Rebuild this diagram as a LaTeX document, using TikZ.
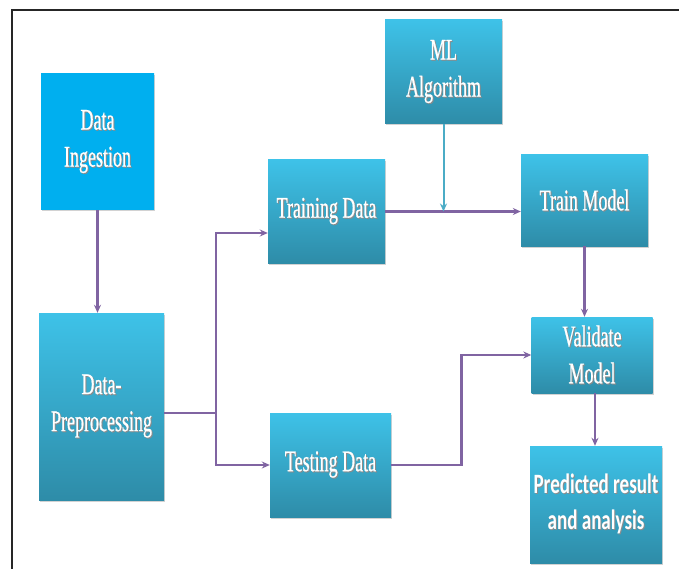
\documentclass[tikz,border=0pt]{standalone}
\usepackage{fontspec}
\usetikzlibrary{arrows.meta,shadows}
\newfontfamily\boxfont[FakeStretch=0.6,FakeBold=0.6]{Liberation Serif}
\newfontfamily\predfont[FakeStretch=0.68]{Carlito}
\definecolor{boxtop}{HTML}{3EC2E8}
\definecolor{boxbot}{HTML}{2E8CA8}
\definecolor{ingcol}{HTML}{00AFEF}
\definecolor{arrpurple}{HTML}{8064A2}
\definecolor{arrteal}{HTML}{4BACC6}
\newcommand\sh[1]{\leavevmode\rlap{\kern1pt\raisebox{-1pt}{\textcolor{black!45}{#1}}}#1}
\tikzset{
  box/.style={draw=none, top color=boxtop, bottom color=boxbot, text=white,
    align=center, inner sep=2pt, font=\boxfont\fontsize{30}{37}\selectfont,
    drop shadow={opacity=0.35, shadow xshift=1.2pt, shadow yshift=-1.5pt}},
  arr/.style={draw=arrpurple, line width=2.6pt, -{Stealth[length=8pt,width=7pt]}},
  arrt/.style={draw=arrteal, line width=2pt, -{Stealth[length=8pt,width=7pt]}},
}
\begin{document}
\begin{tikzpicture}[x=1pt,y=-1pt]
\useasboundingbox (0,0) rectangle (679,569);
\fill[white] (0,0) rectangle (679,569);
\draw[black!85, line width=1.5pt] (679,10) -- (12,10) -- (12,569);

\node[box, top color=ingcol, bottom color=ingcol, minimum width=113pt, minimum height=136pt] (ing) at (97.5,142) {\sh{Data}\\\sh{Ingestion}};
\node[box, minimum width=125pt, minimum height=187pt] (pre) at (101.5,406.5) {\sh{Data-}\\\sh{Preprocessing}};
\node[box, minimum width=117pt, minimum height=103pt] (train) at (326.5,211.5) {\sh{Training Data}};
\node[box, minimum width=121pt, minimum height=104pt] (test) at (330.5,465) {\sh{Testing Data}};
\node[box, minimum width=117pt, minimum height=104pt] (ml) at (443.5,72) {\sh{ML}\\\sh{Algorithm}};
\node[box, minimum width=127pt, minimum height=91pt] (tm) at (584.5,200.5) {\sh{Train Model}};
\node[box, minimum width=121pt, minimum height=76pt] (val) at (592,355) {\sh{Validate}\\\sh{Model}};
\node[box, font=\predfont\bfseries\fontsize{28}{36}\selectfont, minimum width=132pt, minimum height=117pt] (pred) at (596,504.5) {\sh{Predicted result}\\\sh{and analysis}};

\coordinate (j) at (216,413);
\draw[arrpurple, line width=2.6pt] (pre.east |- j) -- (j);
\draw[arr] (j) |- ([yshift=-21.5pt]train.west);
\draw[arr] (j) |- (test.west);
\draw[arr] (ing.south) -- (ing.south |- pre.north);
\draw[arr] (train.east) -- (train.east -| tm.west);
\draw[arrt] (ml.south) -- (ml.south |- train.east);
\draw[arr] (tm.south) -- (tm.south |- val.north);
\draw[arr] (test.east) -- ++(70,0) |- (val.west);
\draw[arr] ([xshift=3pt]val.south) -- ([xshift=3pt]val.south |- pred.north);
\end{tikzpicture}
\end{document}
